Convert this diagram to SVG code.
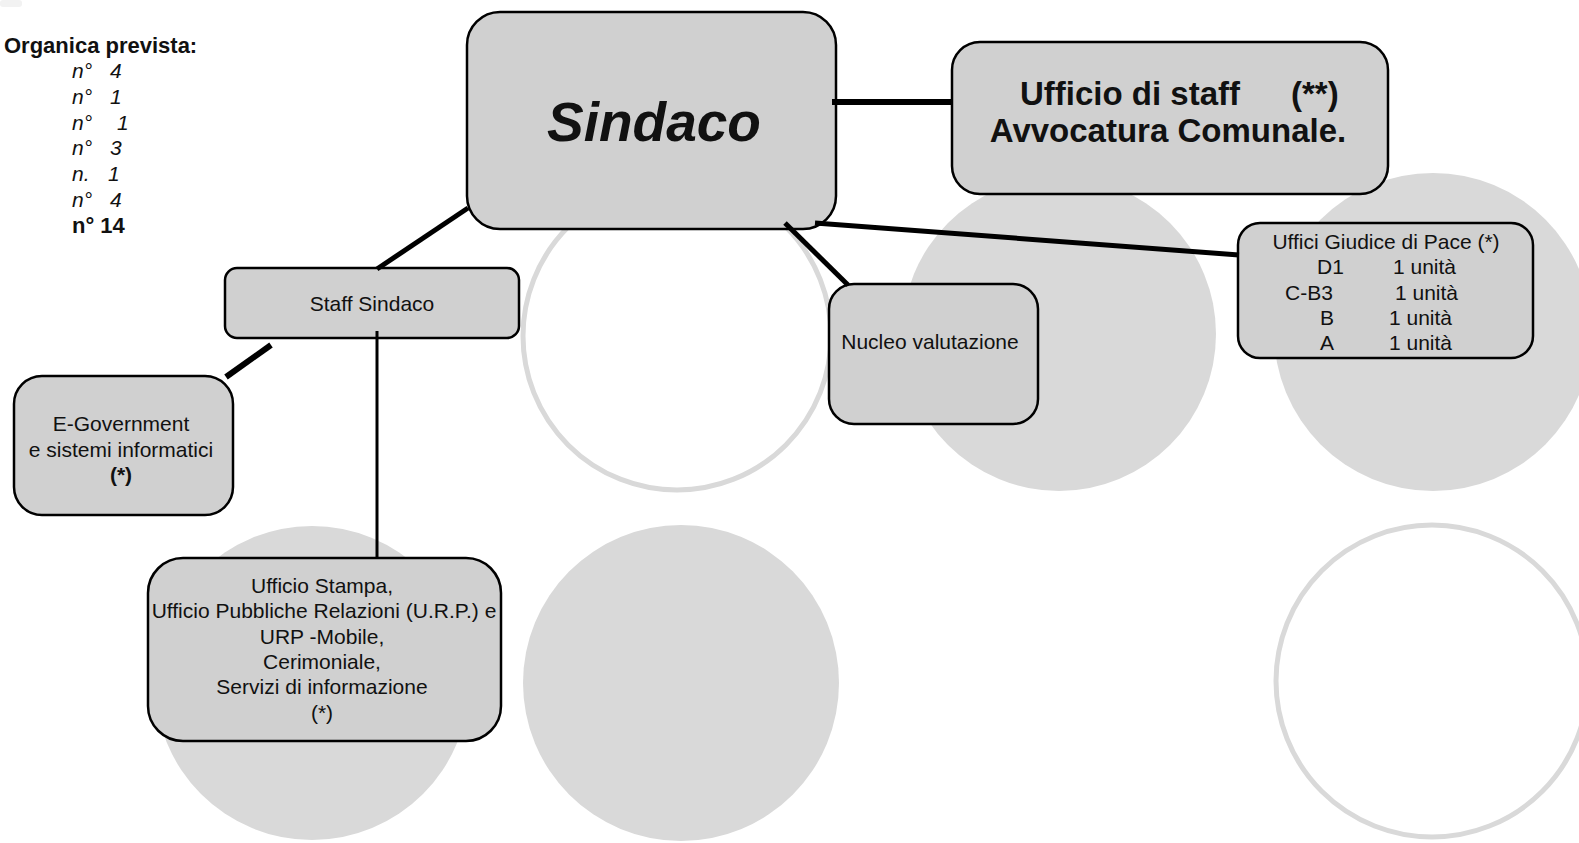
<svg xmlns="http://www.w3.org/2000/svg" width="1579" height="843" viewBox="0 0 1579 843">
<style>
.bg{fill:#d9d9d9}
.ring{fill:none;stroke:#d9d9d9;stroke-width:5}
.box{fill:#d0d0d0;stroke:#000;stroke-width:2.5}
.t{font-family:"Liberation Sans",Arial,sans-serif;font-size:21px;fill:#111}
.c{text-anchor:middle}
.b{font-weight:bold}
.i{font-style:italic}
.s22{font-size:22px}
.s33{font-size:33px}
.s55{font-size:55px}
.cn{stroke:#000;fill:none}
</style>
<defs>
<clipPath id="stampaClip"><rect x="151" y="550" width="360" height="200"/></clipPath>
</defs>
<rect width="1579" height="843" fill="#fff"/>
<g id="background">
<rect x="0" y="0" width="22" height="7" rx="3" fill="#f2f2f2"/>
<circle class="ring" cx="677" cy="336" r="154"/>
<circle class="bg" cx="1059" cy="334" r="157"/>
<circle class="bg" cx="1433" cy="332" r="159"/>
<circle class="bg" cx="312" cy="683" r="157"/>
<circle class="bg" cx="681" cy="683" r="158"/>
<circle class="ring" cx="1432" cy="681" r="156"/>
</g>
<g id="legend">
<text class="t b s22" x="4" y="53">Organica prevista:</text>
<g class="t i">
<text x="72" y="78">n°<tspan x="110">4</tspan></text>
<text x="72" y="104">n°<tspan x="110">1</tspan></text>
<text x="72" y="130">n°<tspan x="117">1</tspan></text>
<text x="72" y="155">n°<tspan x="110">3</tspan></text>
<text x="72" y="181">n.<tspan x="108">1</tspan></text>
<text x="72" y="207">n°<tspan x="110">4</tspan></text>
</g>
<text class="t b s22" x="72" y="233">n° 14</text>
</g>
<g id="sindaco">
<rect class="box" x="467" y="12" width="369" height="217" rx="33"/>
<text class="t b i c s55" x="654" y="141">Sindaco</text>
</g>
<g id="avvocatura">
<rect class="box" x="952" y="42" width="436" height="152" rx="28"/>
<text class="t b s33" x="1020" y="105">Ufficio di staff<tspan x="1291">(**)</tspan></text>
<text class="t b c s33" x="1168" y="142">Avvocatura Comunale.</text>
</g>
<g id="staff-sindaco">
<rect class="box" x="225" y="268" width="294" height="70" rx="12"/>
<text class="t c" x="372" y="311">Staff Sindaco</text>
</g>
<g id="e-government">
<rect class="box" x="14" y="376" width="219" height="139" rx="28"/>
<text class="t c" x="121" y="431">E-Government</text>
<text class="t c" x="121" y="457">e sistemi informatici</text>
<text class="t c b" x="121" y="482">(*)</text>
</g>
<g id="ufficio-stampa">
<rect class="box" x="148" y="558" width="353" height="183" rx="35"/>
<text class="t c" x="322" y="593">Ufficio Stampa,</text>
<text class="t c" x="324" y="618" clip-path="url(#stampaClip)">Ufficio Pubbliche Relazioni (U.R.P.) e</text>
<text class="t c" x="322" y="644">URP -Mobile,</text>
<text class="t c" x="322" y="669">Cerimoniale,</text>
<text class="t c" x="322" y="694">Servizi di informazione</text>
<text class="t c" x="322" y="720">(*)</text>
</g>
<g id="nucleo">
<rect class="box" x="829" y="284" width="209" height="140" rx="25"/>
<text class="t c" x="930" y="349">Nucleo valutazione</text>
</g>
<g id="giudice-pace">
<rect class="box" x="1238" y="223" width="295" height="135" rx="22"/>
<text class="t c" x="1386" y="249">Uffici Giudice di Pace (*)</text>
<text class="t" y="274"><tspan x="1317">D1</tspan><tspan x="1393">1 unità</tspan></text>
<text class="t" y="300"><tspan x="1285">C-B3</tspan><tspan x="1395">1 unità</tspan></text>
<text class="t" y="325"><tspan x="1320">B</tspan><tspan x="1389">1 unità</tspan></text>
<text class="t" y="350"><tspan x="1320">A</tspan><tspan x="1389">1 unità</tspan></text>
</g>
<g id="connectors" class="cn">
<line x1="832" y1="102" x2="952" y2="102" stroke-width="6"/>
<line x1="468" y1="208" x2="377" y2="269" stroke-width="5"/>
<line x1="785" y1="223" x2="848" y2="285" stroke-width="5"/>
<line x1="815" y1="223" x2="1239" y2="255" stroke-width="5"/>
<line x1="271" y1="345" x2="226" y2="377" stroke-width="6"/>
<line x1="377" y1="331" x2="377" y2="558" stroke-width="3"/>
</g>
</svg>
